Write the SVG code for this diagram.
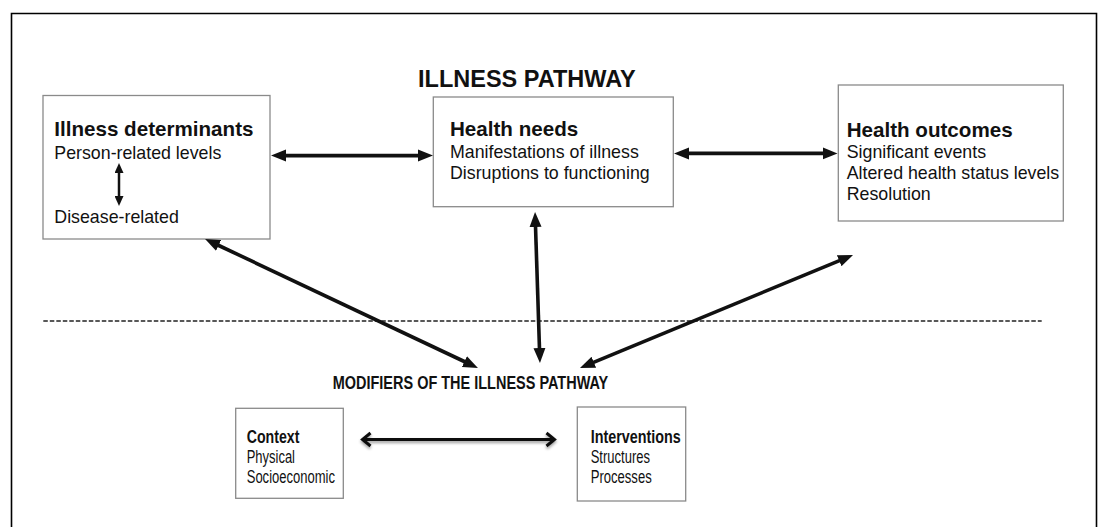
<svg xmlns="http://www.w3.org/2000/svg" width="1099" height="527" viewBox="0 0 1099 527">
<style>
.box{fill:#fff;stroke:#8a8a8a;stroke-width:1.3}
.t{font-family:"Liberation Sans",Arial,Helvetica,sans-serif;fill:#111}
.b{font-weight:bold;font-size:20.6px}
.r{font-size:17.8px}
.cb{font-weight:bold;font-size:17.5px}
.cr{font-size:17.5px}
.thick{stroke:#111;stroke-width:3.6;fill:none}
.thin{stroke:#111;stroke-width:2.5;fill:none}
</style>
<defs>
<marker id="ah" markerUnits="userSpaceOnUse" markerWidth="16" markerHeight="13" refX="1" refY="6" orient="auto-start-reverse" viewBox="0 0 16 12">
<path d="M0,0 L15,6 L0,12 z" fill="#111"/>
</marker>
<marker id="ahs" markerUnits="userSpaceOnUse" markerWidth="10" markerHeight="9" refX="1" refY="4.5" orient="auto-start-reverse" viewBox="0 0 10 9">
<path d="M0,0 L10,4.5 L0,9 z" fill="#111"/>
</marker>
<filter id="sh" x="-10%" y="-200%" width="120%" height="500%">
<feGaussianBlur in="SourceAlpha" stdDeviation="1.5"/>
<feOffset dx="0" dy="2" result="o"/>
<feComponentTransfer><feFuncA type="linear" slope="0.4"/></feComponentTransfer>
<feMerge><feMergeNode/><feMergeNode in="SourceGraphic"/></feMerge>
</filter>
</defs>
<rect width="1099" height="527" fill="#fff"/>
<path d="M11.5,527 V13.5 H1096.5 V527" fill="none" stroke="#000" stroke-width="1.6"/>
<text class="t" x="418" y="86.7" font-weight="bold" font-size="23.5">ILLNESS PATHWAY</text>

<g id="illness-determinants">
<rect class="box" x="43" y="95.5" width="227" height="143.5"/>
<text class="t b" x="54.3" y="136">Illness determinants</text>
<text class="t r" x="54.3" y="159">Person-related levels</text>
<text class="t r" x="54.3" y="222.5">Disease-related</text>
<line class="thin" x1="119" y1="172" x2="119" y2="197" marker-start="url(#ahs)" marker-end="url(#ahs)"/>
</g>

<g id="health-needs">
<rect class="box" x="433.3" y="97" width="240" height="109.7"/>
<text class="t b" x="450" y="136">Health needs</text>
<text class="t r" x="450" y="158.3">Manifestations of illness</text>
<text class="t r" x="450" y="179">Disruptions to functioning</text>
</g>

<g id="health-outcomes">
<rect class="box" x="838.3" y="85" width="225" height="136"/>
<text class="t b" x="846.7" y="136.7">Health outcomes</text>
<text class="t r" x="846.7" y="158.3">Significant events</text>
<text class="t r" x="846.7" y="179">Altered health status levels</text>
<text class="t r" x="846.7" y="200">Resolution</text>
</g>

<g id="modifiers">
<text class="t" x="332.7" y="388.7" font-weight="bold" font-size="18.5" textLength="275.6" lengthAdjust="spacingAndGlyphs">MODIFIERS OF THE ILLNESS PATHWAY</text>
</g>

<g id="context">
<rect class="box" x="235.7" y="408.3" width="107.6" height="90"/>
<text class="t cb" x="246.7" y="443.3" textLength="52.7" lengthAdjust="spacingAndGlyphs">Context</text>
<text class="t cr" x="246.7" y="463.3" textLength="48.3" lengthAdjust="spacingAndGlyphs">Physical</text>
<text class="t cr" x="246.7" y="483.3" textLength="88.3" lengthAdjust="spacingAndGlyphs">Socioeconomic</text>
</g>

<g id="interventions">
<rect class="box" x="577.3" y="407" width="108.4" height="94"/>
<text class="t cb" x="590.7" y="443.3" textLength="90" lengthAdjust="spacingAndGlyphs">Interventions</text>
<text class="t cr" x="590.7" y="463.3" textLength="59.3" lengthAdjust="spacingAndGlyphs">Structures</text>
<text class="t cr" x="590.7" y="482.5" textLength="61" lengthAdjust="spacingAndGlyphs">Processes</text>
</g>

<g id="connectors">
<line x1="43.3" y1="321" x2="1041.7" y2="321" stroke="#222" stroke-width="1.6" stroke-dasharray="4.5,2"/>
<line class="thick" x1="285" y1="155.6" x2="419" y2="155.6" marker-start="url(#ah)" marker-end="url(#ah)"/>
<line class="thick" x1="688" y1="153.4" x2="823.5" y2="153.4" marker-start="url(#ah)" marker-end="url(#ah)"/>
<line class="thick" x1="535.5" y1="226" x2="539.5" y2="349" marker-start="url(#ah)" marker-end="url(#ah)"/>
<line class="thick" x1="217.7" y1="245" x2="465.3" y2="362" marker-start="url(#ah)" marker-end="url(#ah)"/>
<line class="thick" x1="840.1" y1="260.3" x2="592.9" y2="362.7" marker-start="url(#ah)" marker-end="url(#ah)"/>
<g filter="url(#sh)" stroke="#111" stroke-width="3" fill="none" stroke-linejoin="miter">
<line x1="363" y1="439.5" x2="554" y2="439.5"/>
<polyline points="370.5,433 362.5,439.5 370.5,446"/>
<polyline points="546.5,433 554.5,439.5 546.5,446"/>
</g>
</g>
</svg>
